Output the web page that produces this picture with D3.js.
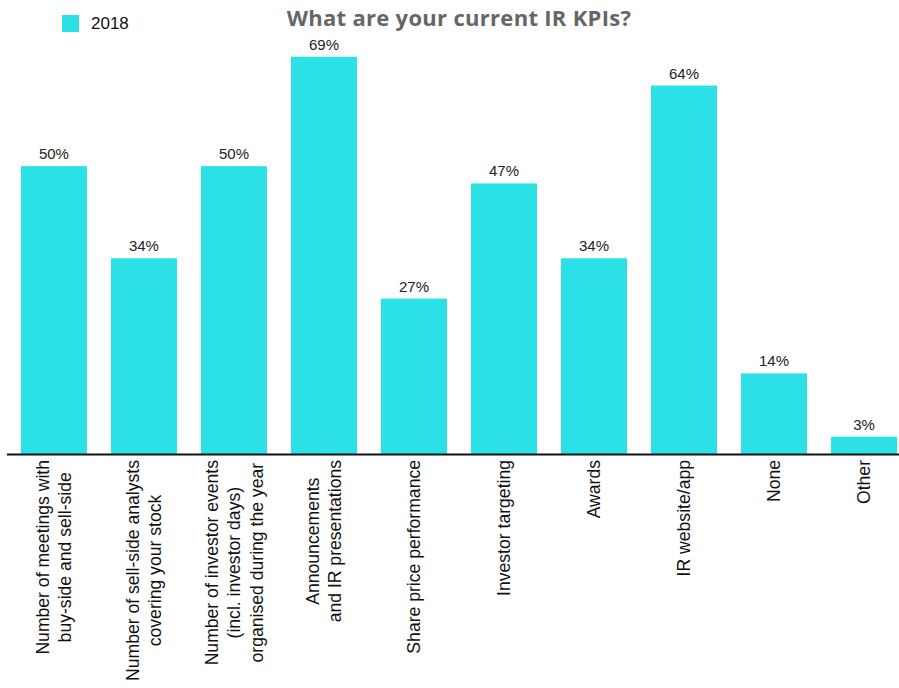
<!DOCTYPE html>
<html>
<head>
<meta charset="utf-8">
<script src="https://cdn.jsdelivr.net/npm/d3@7"></script>
<style>
  body { margin: 0; background: #fff; }
  svg { display: block; }
</style>
</head>
<body>
<svg id="chart"></svg>
<script>
var categories = [
  ["Number of meetings with", "buy-side and sell-side"],
  ["Number of sell-side analysts", "covering your stock"],
  ["Number of investor events", "(incl. investor days)", "organised during the year"],
  ["Announcements", "and IR presentations"],
  ["Share price performance"],
  ["Investor targeting"],
  ["Awards"],
  ["IR website/app"],
  ["None"],
  ["Other"]
];
var values2018 = [50, 34, 50, 69, 27, 47, 34, 64, 14, 3];
var seriesName = "2018";
var title = "What are your current IR KPIs?";

var width = 899, height = 688;
var barColor = "#2ce1e5";
var baseY = 454;

var svg = d3.select("#chart").attr("width", width).attr("height", height);

var x = d3.scaleBand()
  .domain(d3.range(categories.length))
  .range([9, 909])
  .paddingInner(0.267)
  .paddingOuter(0.133);

var y = d3.scaleLinear().domain([0, 70]).range([baseY, 51]);

// bars
svg.selectAll("rect.bar")
  .data(values2018)
  .enter().append("rect")
  .attr("class", "bar")
  .attr("x", function(d, i) { return x(i); })
  .attr("y", function(d) { return y(d); })
  .attr("width", x.bandwidth())
  .attr("height", function(d) { return y(0) - y(d); })
  .style("fill", barColor);

// value labels
svg.selectAll("text.val")
  .data(values2018)
  .enter().append("text")
  .attr("class", "val")
  .attr("x", function(d, i) { return x(i) + x.bandwidth() / 2; })
  .attr("y", function(d) { return y(d) - 7; })
  .attr("text-anchor", "middle")
  .style("font-family", "'Liberation Sans', Arial, sans-serif")
  .style("font-size", "15px")
  .style("fill", "#222")
  .text(function(d) { return d + "%"; });

// baseline
svg.append("line")
  .attr("x1", 7).attr("x2", width)
  .attr("y1", baseY + 0.5).attr("y2", baseY + 0.5)
  .style("stroke", "#111")
  .style("stroke-width", 2);

// category labels, rotated, block starts just under the axis
var lineH = 22.5;
var labels = svg.selectAll("g.cat")
  .data(categories)
  .enter().append("g")
  .attr("class", "cat");

labels.each(function(lines, i) {
  var g = d3.select(this);
  var t = g.append("text")
    .attr("text-anchor", "middle")
    .style("font-family", "'Liberation Sans', Arial, sans-serif")
    .style("font-size", "17.6px")
    .style("fill", "#111");
  var n = lines.length;
  lines.forEach(function(s, k) {
    t.append("tspan")
      .attr("x", 0)
      .attr("y", (k - (n - 1) / 2) * lineH)
      .attr("dy", "0.35em")
      .text(s);
  });
  var maxLen = d3.max(t.selectAll("tspan").nodes(), function(n) { return n.getComputedTextLength(); });
  var cx = x(i) + x.bandwidth() / 2;
  var cy = baseY + 6 + maxLen / 2;
  g.attr("transform", "translate(" + cx + "," + cy + ") rotate(-90)");
});

// title
svg.append("text")
  .attr("x", 459)
  .attr("y", 26)
  .attr("text-anchor", "middle")
  .style("font-family", "'Open Sans', sans-serif")
  .style("font-weight", "700")
  .style("font-size", "22px")
  .style("letter-spacing", "0.3px")
  .style("fill", "#666")
  .text(title);

// legend
svg.append("rect")
  .attr("x", 62).attr("y", 15)
  .attr("width", 17).attr("height", 17)
  .style("fill", barColor);
svg.append("text")
  .attr("x", 91).attr("y", 29)
  .style("font-family", "'Liberation Sans', Arial, sans-serif")
  .style("font-size", "17px")
  .style("fill", "#111")
  .text(seriesName);
</script>
</body>
</html>
